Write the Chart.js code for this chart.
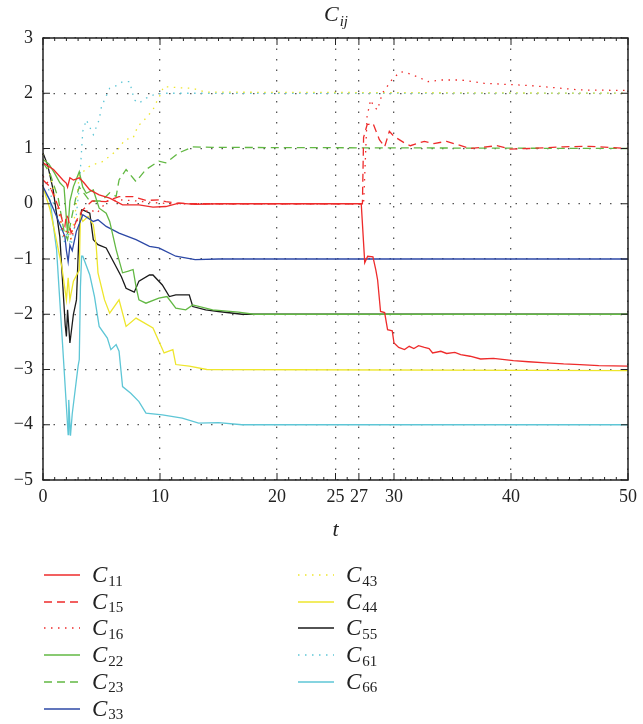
<!DOCTYPE html>
<html>
<head>
<meta charset="utf-8">
<script src="https://cdn.jsdelivr.net/npm/chart.js@4/dist/chart.umd.min.js"></script>
<style>
  body { margin: 0; background: #fff; width: 643px; height: 724px; overflow: hidden; }
  #wrap { position: relative; width: 643px; height: 545px; }
  #legend { position: absolute; left: 0; top: 0; width: 643px; height: 724px; pointer-events: none; }
  .item { position: absolute; height: 26px; display: flex; align-items: center; font-family: "Liberation Serif", "DejaVu Serif", serif; color: #222; }
  .item svg { margin-right: 12px; }
  .item .c { font-style: italic; font-size: 23px; }
  .item .sub { font-size: 15px; display: inline-block; position: relative; top: 6px; margin-left: 1px; }
</style>
</head>
<body>
<div id="wrap"><canvas id="graf" width="643" height="545"></canvas></div>
<div id="legend"></div>
<script>
/* akse-ticks */
const xTicks = [0, 10, 20, 25, 27, 30, 40, 50];
const yTicks = [3, 2, 1, 0, -1, -2, -3, -4, -5];

/* serier: tid og værdi */
const t11 = [0, 0.9, 1.7, 2.0, 2.1, 2.3, 2.6, 3.1, 3.5, 4.0, 4.8, 5.7, 6.8, 8.2, 9.4, 10.5, 11.6, 13, 15, 20, 27.2, 27.5, 27.75, 28.2, 28.45, 28.6, 28.85, 29.2, 29.45, 29.85, 30.0, 30.4, 30.9, 31.3, 31.7, 32.1, 32.6, 33.0, 33.3, 34.0, 34.5, 35.2, 35.7, 36.5, 37.4, 38.5, 40.2, 41.5, 43.0, 44.5, 45.9, 47.5, 50];
const c11 = [0.74, 0.62, 0.43, 0.37, 0.3, 0.47, 0.43, 0.47, 0.38, 0.25, 0.16, 0.10, -0.02, -0.02, -0.06, -0.05, 0.01, -0.01, 0, 0, 0, -1.07, -0.95, -0.96, -1.2, -1.38, -1.95, -1.97, -2.28, -2.3, -2.52, -2.6, -2.64, -2.58, -2.62, -2.57, -2.6, -2.62, -2.7, -2.67, -2.71, -2.69, -2.73, -2.76, -2.81, -2.8, -2.84, -2.86, -2.88, -2.9, -2.91, -2.93, -2.94];

const t15 = [0, 0.6, 1.4, 1.7, 1.87, 2.0, 2.15, 2.4, 2.9, 3.4, 4.2, 5.4, 6.5, 7.7, 8.8, 9.9, 10.5, 11.4, 13, 20, 27.3, 27.4, 27.7, 28.2, 28.75, 29.2, 29.6, 30.0, 30.9, 31.4, 32.6, 33.4, 34.5, 36.5, 38.8, 39.9, 41.6, 44.5, 46.7, 50];
const c15 = [0.43, 0.31, -0.1, -0.35, -0.41, -0.2, -0.26, -0.53, -0.29, -0.11, 0.05, 0.04, 0.13, 0.13, 0.06, 0.07, 0.04, 0.01, 0, 0, 0, 1.2, 1.43, 1.46, 1.16, 1.03, 1.31, 1.22, 1.1, 1.05, 1.13, 1.09, 1.13, 1.0, 1.05, 0.99, 1.0, 1.03, 1.04, 1.0];

const t16 = [0, 0.5, 1.2, 1.8, 2.1, 2.4, 2.8, 3.2, 4.0, 4.6, 5.5, 6.8, 8, 9.5, 11, 20, 27.4, 27.7, 28.0, 28.3, 28.6, 28.75, 29.0, 29.5, 29.9, 30.6, 31.2, 32.0, 32.9, 34.0, 35.7, 37.7, 41.6, 45.9, 50];
const c16 = [0.5, 0.35, 0.0, -0.6, -0.45, -0.65, -0.35, -0.2, -0.1, -0.17, 0.05, 0.07, 0.05, 0.02, 0, 0, 0, 1.58, 1.88, 1.75, 1.7, 1.82, 2.0, 2.15, 2.27, 2.39, 2.36, 2.3, 2.21, 2.24, 2.24, 2.18, 2.14, 2.06, 2.05];

const t22 = [0, 0.5, 1.0, 1.44, 1.8, 2.1, 2.3, 2.6, 3.1, 3.4, 3.7, 4.3, 4.8, 5.4, 5.7, 6.25, 6.8, 7.3, 7.7, 7.95, 8.2, 8.8, 9.9, 10.6, 11.35, 12.2, 12.8, 14.5, 16.7, 18, 50];
const c22 = [0.8, 0.72, 0.55, 0.38, 0.3, -0.55, 0.05, 0.31, 0.58, 0.3, 0.19, 0.25, -0.08, -0.17, -0.32, -0.83, -1.25, -1.22, -1.19, -1.5, -1.74, -1.8, -1.71, -1.68, -1.89, -1.92, -1.83, -1.92, -1.96, -2.0, -2.0];

const t23 = [0, 0.6, 1.3, 1.8, 2.1, 2.4, 2.8, 3.1, 4.0, 5.0, 5.7, 6.25, 6.5, 7.1, 7.95, 8.8, 9.9, 10.5, 11.6, 12.8, 14.5, 50];
const c23 = [0.75, 0.55, 0.1, -0.5, -0.65, -0.3, 0.1, 0.3, 0.05, 0.05, 0.2, 0.13, 0.43, 0.62, 0.4, 0.62, 0.77, 0.74, 0.92, 1.03, 1.02, 1.0];

const t33 = [0, 0.5, 1.16, 1.87, 2.0, 2.15, 2.3, 2.5, 2.85, 3.3, 3.4, 4.3, 4.7, 5.4, 6.5, 7.95, 9.1, 9.9, 10.2, 11.35, 13.0, 15, 50];
const c33 = [0.31, 0.1, -0.23, -0.59, -0.85, -1.05, -0.75, -0.85, -0.5, -0.26, -0.2, -0.32, -0.29, -0.41, -0.53, -0.65, -0.77, -0.8, -0.83, -0.95, -1.01, -1.0, -1.0];

const t43 = [0, 0.5, 1.2, 1.8, 2.1, 2.4, 2.8, 3.1, 4.1, 5.0, 5.7, 6.4, 7.0, 7.7, 8.1, 8.8, 9.4, 9.65, 10.1, 10.3, 11.6, 12.8, 13.9, 50];
const c43 = [0.9, 0.6, 0.0, -0.6, -0.4, -0.65, -0.1, 0.52, 0.7, 0.75, 0.86, 0.98, 1.16, 1.19, 1.4, 1.55, 1.7, 1.82, 2.0, 2.12, 2.1, 2.09, 2.02, 2.0];

const t44 = [0, 0.6, 1.6, 2.0, 2.15, 2.3, 2.6, 3.1, 3.2, 3.4, 3.85, 4.3, 4.55, 4.7, 5.26, 5.7, 6.5, 7.1, 7.95, 9.4, 10.35, 11.1, 11.35, 12.5, 14, 50];
const c44 = [0.3, -0.1, -1.13, -1.74, -1.34, -1.74, -1.4, -1.2, -0.2, -0.32, -0.23, -0.38, -0.77, -1.25, -1.74, -1.98, -1.74, -2.22, -2.07, -2.25, -2.7, -2.64, -2.91, -2.94, -3.0, -3.02];

const t55 = [0, 0.4, 0.87, 1.44, 1.9, 2.0, 2.1, 2.3, 2.6, 2.86, 3.1, 3.3, 3.4, 4.0, 4.3, 4.7, 5.4, 6.0, 6.7, 7.1, 7.8, 8.2, 9.1, 9.4, 10.2, 10.8, 11.35, 12.5, 12.8, 13.9, 15.0, 17, 50];
const c55 = [0.92, 0.7, 0.25, -0.6, -2.2, -2.4, -1.92, -2.52, -2.0, -1.74, -0.41, -0.11, -0.11, -0.17, -0.65, -0.74, -0.8, -1.04, -1.32, -1.53, -1.6, -1.4, -1.29, -1.29, -1.47, -1.68, -1.65, -1.65, -1.86, -1.92, -1.95, -2.0, -2.0];

const t61 = [0, 0.6, 1.2, 1.8, 2.1, 2.4, 2.8, 3.1, 3.3, 3.4, 3.7, 4.3, 4.8, 5.0, 5.7, 6.4, 6.8, 7.4, 7.8, 8.2, 8.8, 9.65, 10.5, 50];
const c61 = [0.5, 0.2, -0.2, -0.7, -0.5, -0.75, -0.3, 0.3, 0.98, 1.31, 1.52, 1.25, 1.52, 1.76, 2.09, 2.15, 2.21, 2.21, 1.88, 1.82, 1.91, 1.99, 2.0, 2.0];

const t66 = [0, 0.6, 1.16, 1.7, 2.0, 2.15, 2.2, 2.35, 2.5, 3.0, 3.1, 3.2, 3.3, 3.4, 4.0, 4.4, 4.8, 5.5, 5.8, 6.25, 6.5, 6.8, 7.5, 8.2, 8.8, 10.2, 11.9, 13.3, 15.0, 17, 50];
const c66 = [0.25, 0.07, -0.83, -2.64, -3.67, -4.18, -3.55, -4.2, -3.8, -2.94, -2.82, -1.5, -0.95, -0.95, -1.29, -1.68, -2.22, -2.43, -2.64, -2.55, -2.67, -3.31, -3.43, -3.58, -3.79, -3.82, -3.88, -3.97, -3.96, -4.0, -4.0];

/* farver og linjetyper */
const ROED = '#ee2b2b', GROEN = '#62b843', BLAA = '#2c48a6', GUL = '#eee62c', SORT = '#1a1a1a', CYAN = '#5ec6d6';
const STIPLET = [8, 5], PRIKKET = [1.5, 5.5];

/* serierne i tegne-rækkefølge, navn = subscript */
const serier = [
    { navn: '11', t: t11, v: c11, farve: ROED, dash: [] },
    { navn: '15', t: t15, v: c15, farve: ROED, dash: STIPLET },
    { navn: '16', t: t16, v: c16, farve: ROED, dash: PRIKKET },
    { navn: '22', t: t22, v: c22, farve: GROEN, dash: [] },
    { navn: '23', t: t23, v: c23, farve: GROEN, dash: STIPLET },
    { navn: '33', t: t33, v: c33, farve: BLAA, dash: [] },
    { navn: '43', t: t43, v: c43, farve: GUL, dash: PRIKKET },
    { navn: '44', t: t44, v: c44, farve: GUL, dash: [] },
    { navn: '55', t: t55, v: c55, farve: SORT, dash: [] },
    { navn: '61', t: t61, v: c61, farve: CYAN, dash: PRIKKET },
    { navn: '66', t: t66, v: c66, farve: CYAN, dash: [] }
];

const datasets = serier.map(s => ({
    label: 'C' + s.navn,
    data: s.t.map((t, i) => ({ x: t, y: s.v[i] })),
    borderColor: s.farve,
    borderDash: s.dash,
    borderWidth: 1.3,
    pointRadius: 0,
    tension: 0,
    fill: false
}));

/* ramme med indadvendte ticks, titel og x-akse-label */
const rammePlugin = {
    id: 'ramme',
    afterDraw(chart) {
        const { ctx, chartArea: a, scales } = chart;
        ctx.save();
        ctx.strokeStyle = '#222';
        ctx.lineWidth = 1.5;
        ctx.setLineDash([]);
        ctx.strokeRect(a.left, a.top, a.right - a.left, a.bottom - a.top);
        ctx.lineWidth = 1;
        ctx.beginPath();
        for (let t = 0; t <= 50; t++) {
            const x = scales.x.getPixelForValue(t);
            const len = xTicks.includes(t) ? 7 : 3;
            ctx.moveTo(x, a.bottom); ctx.lineTo(x, a.bottom - len);
            ctx.moveTo(x, a.top); ctx.lineTo(x, a.top + len);
        }
        for (const v of yTicks) {
            const y = scales.y.getPixelForValue(v);
            ctx.moveTo(a.left, y); ctx.lineTo(a.left + 7, y);
            ctx.moveTo(a.right, y); ctx.lineTo(a.right - 7, y);
        }
        ctx.stroke();

        /* titel C_ij */
        const midt = (a.left + a.right) / 2;
        ctx.fillStyle = '#222';
        ctx.textBaseline = 'alphabetic';
        ctx.font = 'italic 22px "Liberation Serif", serif';
        const bC = ctx.measureText('C').width;
        ctx.font = 'italic 15px "Liberation Serif", serif';
        const bIJ = ctx.measureText('ij').width;
        const x0 = midt - (bC + bIJ) / 2;
        ctx.font = 'italic 22px "Liberation Serif", serif';
        ctx.fillText('C', x0, 21);
        ctx.font = 'italic 15px "Liberation Serif", serif';
        ctx.fillText('ij', x0 + bC + 1, 26);

        /* x-akse label t */
        ctx.font = 'italic 22px "Liberation Serif", serif';
        ctx.textAlign = 'center';
        ctx.fillText('t', midt, 536);
        ctx.restore();
    }
};

const tickFont = { family: '"Liberation Serif", serif', size: 18 };

new Chart(document.getElementById('graf'), {
    type: 'line',
    data: { datasets },
    options: {
        responsive: false,
        animation: false,
        layout: { padding: { top: 38, right: 11, bottom: 0, left: 0 } },
        plugins: { legend: { display: false }, tooltip: { enabled: false } },
        scales: {
            x: {
                type: 'linear',
                min: 0, max: 50,
                afterBuildTicks: (s) => { s.ticks = xTicks.map(v => ({ value: v })); },
                afterFit: (s) => { s.height = 65; },
                ticks: { font: tickFont, color: '#222', padding: 6, autoSkip: false, maxRotation: 0 },
                grid: { color: '#555', lineWidth: 1.3, drawTicks: false },
                border: { display: false, dash: [1.5, 9] }
            },
            y: {
                min: -5, max: 3,
                afterBuildTicks: (s) => { s.ticks = yTicks.map(v => ({ value: v })); },
                afterFit: (s) => { s.width = 43; },
                ticks: {
                    font: tickFont, color: '#222', padding: 10,
                    callback: (v) => v < 0 ? '\u2212' + Math.abs(v) : String(v)
                },
                grid: { color: '#555', lineWidth: 1.3, drawTicks: false },
                border: { display: false, dash: [1.5, 9] }
            }
        }
    },
    plugins: [rammePlugin]
});

/* HTML-forklaring i to kolonner med subscript */
const legend = document.getElementById('legend');
const kolonne1 = ['11', '15', '16', '22', '23', '33'];
const kolonne2 = ['43', '44', '55', '61', '66'];
function tilfoejPunkt(navn, venstre, top) {
    const s = serier.find(x => x.navn === navn);
    const el = document.createElement('div');
    el.className = 'item';
    el.style.left = venstre + 'px';
    el.style.top = top + 'px';
    el.innerHTML = `<svg width="36" height="4"><line x1="0" y1="2" x2="36" y2="2" stroke="${s.farve}" stroke-width="1.4" stroke-dasharray="${s.dash.length ? s.dash.join(',') : 'none'}"/></svg><span class="c">C</span><span class="sub">${navn}</span>`;
    legend.appendChild(el);
}
kolonne1.forEach((n, i) => tilfoejPunkt(n, 44, 562 + i * 26.7));
kolonne2.forEach((n, i) => tilfoejPunkt(n, 298, 562 + i * 26.7));
</script>
</body>
</html>
